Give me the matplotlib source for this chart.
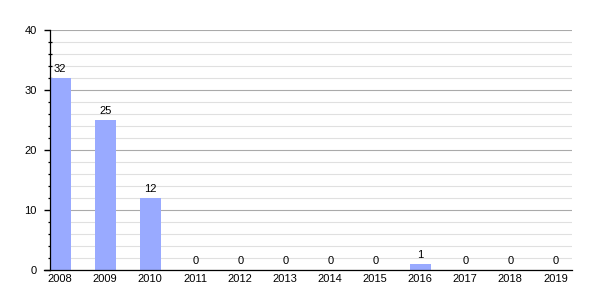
import matplotlib
matplotlib.use("Agg")
import matplotlib.pyplot as plt
from matplotlib.ticker import MultipleLocator

plt.rcParams["font.family"] = ["Liberation Sans", "DejaVu Sans"]

years = ["2008", "2009", "2010", "2011", "2012", "2013", "2014", "2015", "2016", "2017", "2018", "2019"]
values = [32, 25, 12, 0, 0, 0, 0, 0, 1, 0, 0, 0]

fig = plt.figure(figsize=(6, 3), dpi=100)
ax = fig.add_axes([50/600, 30/300, 522/600, 240/300])
x = list(range(len(years)))
ax.bar(x, values, width=0.47, color="#99aaff", zorder=2)
for xi, v in zip(x, values):
    ax.text(xi, v + 0.6, str(v), ha="center", va="bottom", fontsize=8, color="black")

ax.set_xlim(-0.225, 11.37)
ax.set_ylim(0, 40)
ax.yaxis.set_major_locator(MultipleLocator(10))
ax.yaxis.set_minor_locator(MultipleLocator(2))
ax.grid(axis="y", which="major", color="#aaaaaa", linewidth=0.8, zorder=0)
ax.grid(axis="y", which="minor", color="#e0e0e0", linewidth=0.8, zorder=0)
ax.set_axisbelow(True)
ax.set_xticks(x)
ax.set_xticklabels(years)
ax.tick_params(axis="x", length=0, labelsize=8, pad=3)
ax.tick_params(axis="y", which="major", length=4.5, width=1.0, color="black",
               labelsize=8, pad=5)
ax.tick_params(axis="y", which="minor", length=2.5, width=0.9, color="black",
               direction="inout")
for s in ["top", "right"]:
    ax.spines[s].set_visible(False)
for s in ["left", "bottom"]:
    ax.spines[s].set_linewidth(0.9)
    ax.spines[s].set_zorder(4)
ax.plot([-6/522, 0], [0, 0], transform=ax.transAxes, clip_on=False,
        color="black", linewidth=0.9, zorder=4)
fig.savefig("out.png", dpi=100)
